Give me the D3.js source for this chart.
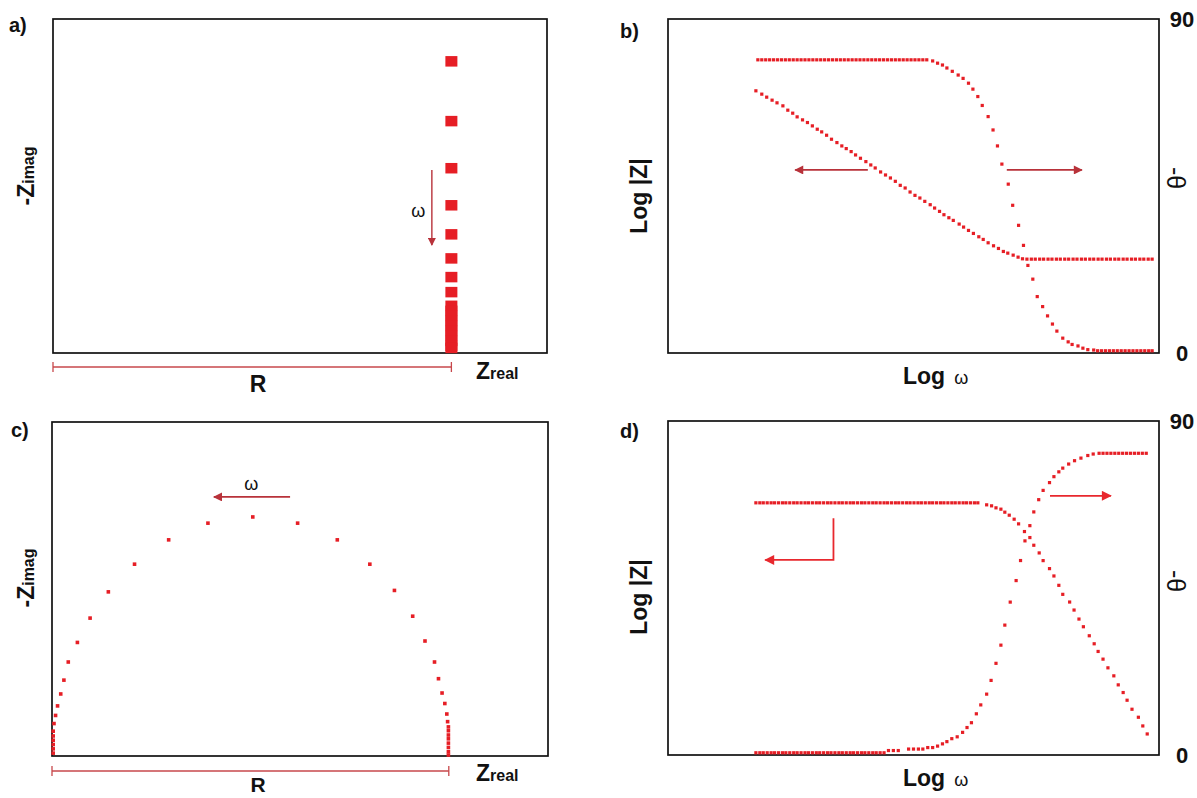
<!DOCTYPE html>
<html><head><meta charset="utf-8">
<script src="https://cdn.jsdelivr.net/npm/d3@7"></script>
<style>
body{margin:0;background:#fff}
svg{display:block}
text{font-family:"Liberation Sans",Arial,sans-serif;fill:#111}
</style>
</head><body>
<svg id="chart" width="1197" height="798"></svg>
<script>
// ---------------- DATA ----------------
// Panel a: Nyquist of pure capacitor + resistor (vertical line at Zreal = R)
const aR = 1.0;
const aZimag = [0.874,0.695,0.554,0.443,0.356,0.284,0.228,0.183,0.142,0.127,0.112,0.097,0.082,0.067,0.052,0.037,0.022,0.016];

// Panel c: Nyquist semicircle (Zreal in units of R)
const cZreal = [0.003,0.003,0.003,0.003,0.003,0.003,0.005,0.009,0.014,0.022,0.030,0.041,0.064,0.096,0.142,0.208,0.294,0.393,0.506,0.619,0.719,0.801,0.863,0.909,0.940,0.964,0.974,0.983,0.990,0.995,0.997,0.999,0.999,0.999,0.999,0.999,0.999,0.999,0.999];
const cZimag = [0.006,0.015,0.024,0.033,0.042,0.052,0.068,0.085,0.105,0.130,0.159,0.197,0.238,0.289,0.344,0.402,0.453,0.488,0.501,0.488,0.453,0.402,0.347,0.293,0.241,0.197,0.162,0.132,0.110,0.088,0.072,0.061,0.053,0.044,0.036,0.027,0.018,0.009,0.002];

// Panel b: Bode (log|Z| left axis, -theta right axis), x = log omega (arbitrary units 0..100)
const bModX = [17.9,19.1,20.1,21.2,22.2,23.4,24.4,25.4,26.3,27.4,28.4,29.4,30.4,31.3,32.3,33.3,34.4,35.4,36.3,37.3,38.2,39.2,40.3,41.3,42.2,43.3,44.3,45.3,46.3,47.3,48.3,49.3,50.3,51.3,52.3,53.4,54.3,55.3,56.2,57.2,58.1,59.3,60.2,61.2,62.2,63.3,64.2,65.2,66.3,67.3,68.3,69.2,70.3,71.3,72.2,
  73.1,74.0,74.8,75.7,76.5,77.4,78.2,79.1,79.9,80.8,81.6,82.5,83.3,84.2,85.0,85.9,86.7,87.6,88.4,89.3,90.1,91.0,91.8,92.7,93.5,94.4,95.2,96.1,96.9,97.8,98.6];
const bModY = [78.5,77.5,76.6,75.7,74.9,74.0,72.7,71.8,70.7,69.8,69.0,68.0,67.0,66.2,65.2,64.0,63.0,62.0,61.2,60.3,59.3,58.3,57.3,56.3,55.4,54.2,53.3,52.4,51.4,50.2,49.4,48.2,47.2,46.4,45.4,44.4,43.4,42.4,41.4,40.5,39.7,38.6,37.7,36.7,35.8,34.8,34.0,33.0,32.1,31.3,30.4,29.9,29.3,28.7,28.2,
  28.1,28.1,28.1,28.1,28.1,28.1,28.1,28.1,28.1,28.1,28.1,28.1,28.1,28.1,28.1,28.1,28.1,28.1,28.1,28.1,28.1,28.1,28.1,28.1,28.1,28.1,28.1,28.1,28.1,28.1,28.1];
const bPhaseX = [18.3,19.1,19.9,20.7,21.5,22.3,23.1,23.9,24.7,25.5,26.3,27.1,27.9,28.7,29.5,30.3,31.1,31.9,32.7,33.5,34.3,35.1,35.9,36.7,37.5,38.3,39.1,39.9,40.7,41.5,42.3,43.1,43.9,44.7,45.5,46.3,47.1,47.9,48.7,49.5,50.3,51.1,51.9,52.7,
  53.9,54.9,55.9,56.8,57.9,59.1,60.1,61.2,62.1,63.1,64.0,65.2,66.2,67.1,68.0,69.3,70.2,71.4,72.4,73.3,74.3,75.2,76.3,77.3,78.3,79.2,80.4,81.5,82.3,83.5,84.5,85.5,86.7,
  87.5,88.3,89.1,89.9,90.7,91.5,92.3,93.1,93.9,94.7,95.5,96.3,97.1,97.9,98.6];
const bPhaseY = [79,79,79,79,79,79,79,79,79,79,79,79,79,79,79,79,79,79,79,79,79,79,79,79,79,79,79,79,79,79,79,79,79,79,79,79,79,79,79,79,79,79,79,79,
  78.7,78.1,77.6,76.8,75.9,74.9,74.0,72.7,71.1,69.1,66.7,63.7,60.1,55.8,50.9,45.5,39.8,34.4,29.0,23.6,19.9,15.2,12.5,10.0,7.8,5.9,4.0,3.0,2.3,1.9,1.3,0.9,0.8,
  0.6,0.6,0.6,0.6,0.6,0.6,0.6,0.6,0.6,0.6,0.6,0.6,0.6,0.6,0.6];

// Panel d: Bode of R-C parallel
const dModX = [17.9,18.7,19.4,20.2,21.0,21.7,22.5,23.3,24.0,24.8,25.6,26.3,27.1,27.9,28.6,29.4,30.2,30.9,31.7,32.5,33.2,34.0,34.8,35.5,36.3,37.1,37.8,38.6,39.4,40.1,40.9,41.7,42.4,43.2,44.0,44.7,45.5,46.3,47.0,47.8,48.6,49.3,50.1,50.9,51.6,52.4,53.2,53.9,54.7,55.5,56.2,57.0,57.8,58.5,59.3,60.1,60.8,61.6,62.4,63.1,
  64.9,65.9,66.8,67.8,68.6,69.5,70.5,71.4,72.6,73.7,74.5,75.6,76.4,77.7,78.6,79.6,80.4,81.8,82.7,83.7,84.6,85.8,86.8,87.6,88.6,89.6,90.8,91.7,92.7,93.5,94.5,95.8,96.7,97.6];
const dModY = [75.5,75.5,75.5,75.5,75.5,75.5,75.5,75.5,75.5,75.5,75.5,75.5,75.5,75.5,75.5,75.5,75.5,75.5,75.5,75.5,75.5,75.5,75.5,75.5,75.5,75.5,75.5,75.5,75.5,75.5,75.5,75.5,75.5,75.5,75.5,75.5,75.5,75.5,75.5,75.5,75.5,75.5,75.5,75.5,75.5,75.5,75.5,75.5,75.5,75.5,75.5,75.5,75.5,75.5,75.5,75.5,75.5,75.5,75.5,75.5,
  74.9,74.6,74.0,73.6,72.7,71.8,70.6,69.2,66.9,65.1,62.8,60.5,58.2,55.8,53.6,50.8,48.1,45.8,43.4,40.7,38.4,35.7,33.3,31.0,28.7,26.1,23.7,21.0,18.7,16.4,13.7,11.3,8.7,6.3];
const dPhaseX = [17.9,18.7,19.4,20.2,21.0,21.7,22.5,23.3,24.0,24.8,25.6,26.3,27.1,27.9,28.6,29.4,30.2,30.9,31.7,32.5,33.2,34.0,34.8,35.5,36.3,37.1,37.8,38.6,39.4,40.1,40.9,41.7,42.4,43.2,44.0,
  44.9,45.9,46.9,49.0,50.0,51.0,51.9,52.9,53.9,54.9,55.9,56.8,57.8,58.9,60.0,60.9,61.8,62.8,63.7,64.9,65.8,66.8,67.8,68.6,69.7,70.9,71.8,72.7,73.7,74.5,75.5,76.4,77.7,78.6,79.6,80.4,81.6,82.8,84.1,85.5,86.6,
  87.8,88.6,89.4,90.2,91.0,91.8,92.6,93.4,94.2,95.0,95.8,96.6,97.4];
const dPhaseY = [0.6,0.6,0.6,0.6,0.6,0.6,0.6,0.6,0.6,0.6,0.6,0.6,0.6,0.6,0.6,0.6,0.6,0.6,0.6,0.6,0.6,0.6,0.6,0.6,0.6,0.6,0.6,0.6,0.6,0.6,0.6,0.6,0.6,0.6,0.6,
  1.2,1.2,1.2,1.6,1.6,1.6,1.6,2.0,2.0,2.4,3.0,3.6,4.4,4.9,6.1,7.4,8.7,11.1,13.5,16.4,20.1,24.7,29.6,35.0,41.2,47.0,52.4,57.7,61.8,65.5,68.8,71.3,73.4,75.0,76.3,77.3,78.4,79.3,80.0,80.7,81.1,
  81.3,81.3,81.3,81.3,81.3,81.3,81.3,81.3,81.3,81.3,81.3,81.3,81.3];

const phaseTicks = [0, 90];
const panelLabels = ["a)", "b)", "c)", "d)"];

// ---------------- DRAW ----------------
const svg = d3.select("#chart");
svg.append("rect").attr("width",1197).attr("height",798).attr("fill","#fff");
const RED = "#e61e25", DARK = "#b8323a", BRIGHT = "#e8282e";

const defs = svg.append("defs");
function marker(id, color, w, h){
  defs.append("marker").attr("id",id).attr("viewBox","0 0 10 10").attr("refX",9).attr("refY",5)
    .attr("markerUnits","userSpaceOnUse").attr("markerWidth",w).attr("markerHeight",h).attr("orient","auto")
    .append("path").attr("d","M0,0 L10,5 L0,10 Z").attr("fill",color);
}
marker("hDark", DARK, 11, 9);
marker("hDarkS", DARK, 9, 8);
marker("hBright", BRIGHT, 11, 10);

function frame(x, y){
  svg.append("rect").attr("x",x.range()[0]).attr("y",y.range()[1])
    .attr("width",x.range()[1]-x.range()[0]).attr("height",y.range()[0]-y.range()[1])
    .attr("fill","none").attr("stroke","#111").attr("stroke-width",1.7);
}
function dots(x, y, xs, ys, s, color){
  svg.append("g").selectAll("rect").data(xs.map((v,i)=>[v, ys[i]])).join("rect")
    .attr("x",d=>x(d[0])-s/2).attr("y",d=>y(d[1])-s/2).attr("width",s).attr("height",s).attr("fill",color||RED);
}
function arrow(pts, color, mk, w){
  svg.append("path").attr("d", d3.line()(pts)).attr("fill","none").attr("stroke",color)
    .attr("stroke-width",w||1.6).attr("marker-end","url(#"+mk+")");
}
function zlabel(cx, cy){
  const t = svg.append("text").attr("transform",`translate(${cx},${cy}) rotate(-90)`).attr("text-anchor","middle").attr("font-weight","bold");
  t.append("tspan").attr("font-size",23).text("-Z");
  t.append("tspan").attr("font-size",16).text("imag");
}
function zreal(x0, base){
  const t = svg.append("text").attr("x",x0).attr("y",base).attr("font-weight","bold");
  t.append("tspan").attr("font-size",23).text("Z");
  t.append("tspan").attr("font-size",16).text("real");
}
function rbar(x, R, yy){
  const g = svg.append("g").attr("stroke","#c7474b").attr("stroke-width",1.3);
  g.append("line").attr("x1",x(0)).attr("x2",x(R)).attr("y1",yy).attr("y2",yy);
  g.append("line").attr("x1",x(0)).attr("x2",x(0)).attr("y1",yy-5).attr("y2",yy+5);
  g.append("line").attr("x1",x(R)).attr("x2",x(R)).attr("y1",yy-5).attr("y2",yy+5);
}
function bodeText(x, y, cy, thetaCy, logBase){
  svg.append("text").attr("transform",`translate(${x.range()[0]-21},${cy}) rotate(-90)`)
    .attr("text-anchor","middle").attr("font-weight","bold").attr("font-size",23).text("Log |Z|");
  svg.append("text").attr("transform",`translate(${x.range()[1]+8},${thetaCy}) rotate(90)`)
    .attr("text-anchor","middle").attr("font-size",25).text("-θ");
  const t = svg.append("text").attr("x",903).attr("y",logBase).attr("font-weight","bold");
  t.append("tspan").attr("font-size",23).text("Log");
  t.append("tspan").attr("font-size",18).attr("font-weight","normal").attr("dx",9).text("ω");
}
function phaseAxis(x, yP){
  const g = svg.append("g").attr("transform",`translate(${x.range()[1]},0)`)
    .call(d3.axisRight(yP).tickValues(phaseTicks).tickSize(0).tickFormat(d3.format("d")));
  g.select(".domain").remove();
  g.selectAll("text").attr("x",23).attr("text-anchor","middle").attr("font-size",22)
    .attr("font-weight","bold").attr("fill","#111").attr("font-family","Liberation Sans, Arial, sans-serif");
}

// ---- Panel a ----
const ax = d3.scaleLinear([0,1.24],[53,547]);
const ay = d3.scaleLinear([0,1],[353,19]);
frame(ax, ay);
svg.append("g").selectAll("rect").data(aZimag).join("rect")
  .attr("x",ax(aR)-6).attr("y",d=>ay(d)-5).attr("width",12).attr("height",10.5).attr("fill",RED);
arrow([[ax(0.951),ay(0.548)],[ax(0.951),ay(0.323)]], DARK, "hDarkS", 1.4);
svg.append("text").attr("x",ax(0.917)).attr("y",ay(0.408)).attr("text-anchor","middle").attr("font-size",18).text("ω");
rbar(ax, aR, 367);
svg.append("text").attr("x",258).attr("y",392).attr("text-anchor","middle").attr("font-weight","bold").attr("font-size",23).text("R");
zreal(476, 379);
zlabel(34, 176);
svg.append("text").attr("x",9).attr("y",32).attr("font-weight","bold").attr("font-size",20).text(panelLabels[0]);

// ---- Panel c ----
const cx = d3.scaleLinear([0,1.25],[52,548]);
const cy = d3.scaleLinear([0,0.7],[756,422]);
frame(cx, cy);
dots(cx, cy, cZreal, cZimag, 3.6);
arrow([[cx(0.600),cy(0.543)],[cx(0.408),cy(0.543)]], DARK, "hDark", 1.6);
svg.append("text").attr("x",cx(0.502)).attr("y",cy(0.557)).attr("text-anchor","middle").attr("font-size",18).text("ω");
rbar(cx, aR, 771);
svg.append("text").attr("x",258).attr("y",792).attr("text-anchor","middle").attr("font-weight","bold").attr("font-size",21).text("R");
zreal(476, 781);
zlabel(34, 578);
svg.append("text").attr("x",11).attr("y",437).attr("font-weight","bold").attr("font-size",20).text(panelLabels[2]);

// ---- Panel b ----
const bx = d3.scaleLinear([0,100],[668,1159]);
const bz = d3.scaleLinear([0,100],[353,19]);
const bp = d3.scaleLinear([0,90],[353,19]);
frame(bx, bz);
dots(bx, bz, bModX, bModY, 3.2);
dots(bx, bp, bPhaseX, bPhaseY, 3.2);
arrow([[bx(40.7),bz(54.8)],[bx(25.9),bz(54.8)]], DARK, "hDark", 1.8);
arrow([[bx(69.0),bz(54.8)],[bx(84.3),bz(54.8)]], DARK, "hDark", 1.8);
phaseAxis(bx, bp);
bodeText(bx, bz, 196, 178, 384);
svg.append("text").attr("x",620).attr("y",38).attr("font-weight","bold").attr("font-size",20).text(panelLabels[1]);

// ---- Panel d ----
const dx = d3.scaleLinear([0,100],[668,1159]);
const dz = d3.scaleLinear([0,100],[755,421]);
const dp = d3.scaleLinear([0,90],[755,421]);
frame(dx, dz);
dots(dx, dz, dModX, dModY, 3.2);
dots(dx, dp, dPhaseX, dPhaseY, 3.2);
arrow([[dx(33.7),dz(70.9)],[dx(33.7),dz(58.4)],[dx(19.8),dz(58.4)]], BRIGHT, "hBright", 1.8);
arrow([[dx(77.8),dz(77.6)],[dx(90.2),dz(77.6)]], BRIGHT, "hBright", 1.8);
phaseAxis(dx, dp);
bodeText(dx, dz, 597, 581, 786);
svg.append("text").attr("x",620).attr("y",438).attr("font-weight","bold").attr("font-size",20).text(panelLabels[3]);
</script>
</body></html>
